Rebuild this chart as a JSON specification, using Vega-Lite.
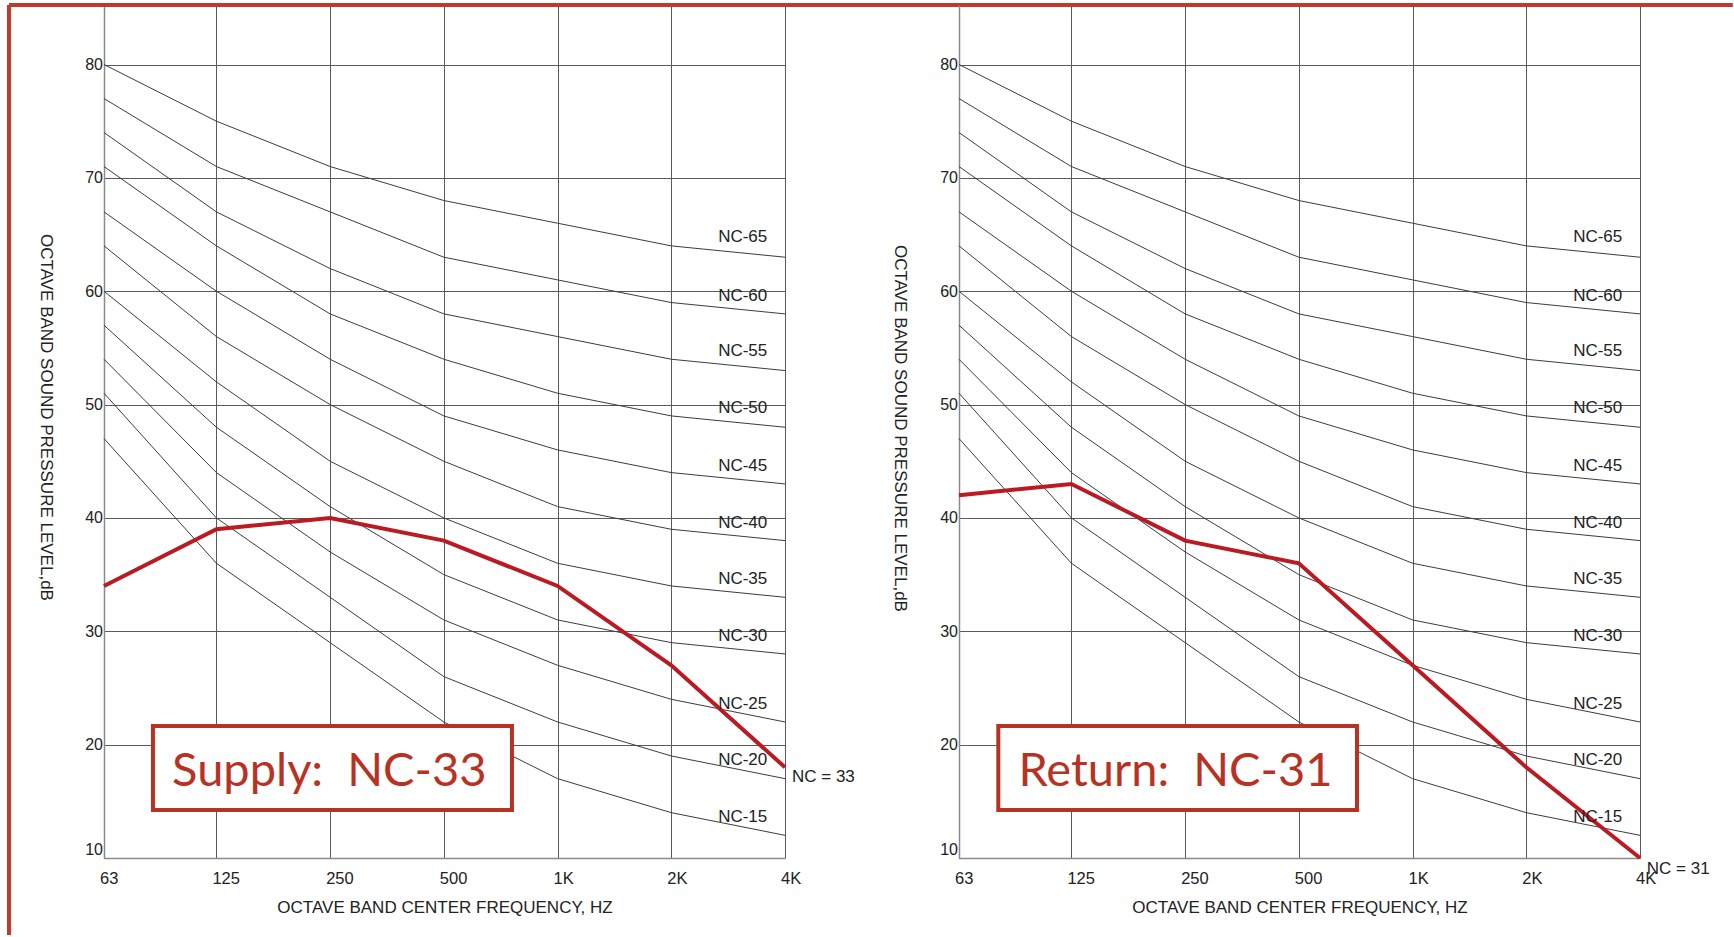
{
  "$schema": "https://vega.github.io/schema/vega-lite/v6.json",
  "padding": {"left": 6, "top": 3, "right": 0, "bottom": 0},
  "background": "white",
  "config": {
    "view": {"stroke": null},
    "font": "Liberation Sans",
    "axis": {
      "labelFont": "Liberation Sans", "titleFont": "Liberation Sans",
      "labelColor": "#222222", "titleColor": "#222222", "titleFontWeight": "normal",
      "gridColor": "#5a5a5a", "gridWidth": 1, "gridOpacity": 1,
      "domainColor": "#8a8a8a", "domainWidth": 1.5,
      "ticks": false, "tickSize": 0, "labelFlush": false, "labelOverlap": false
    }
  },
  "datasets": {
    "nc": [
      {"curve":"NC-15","freq":63,"level":47},{"curve":"NC-15","freq":125,"level":36},{"curve":"NC-15","freq":250,"level":29},{"curve":"NC-15","freq":500,"level":22},{"curve":"NC-15","freq":1000,"level":17},{"curve":"NC-15","freq":2000,"level":14},{"curve":"NC-15","freq":4000,"level":12},
      {"curve":"NC-20","freq":63,"level":51},{"curve":"NC-20","freq":125,"level":40},{"curve":"NC-20","freq":250,"level":33},{"curve":"NC-20","freq":500,"level":26},{"curve":"NC-20","freq":1000,"level":22},{"curve":"NC-20","freq":2000,"level":19},{"curve":"NC-20","freq":4000,"level":17},
      {"curve":"NC-25","freq":63,"level":54},{"curve":"NC-25","freq":125,"level":44},{"curve":"NC-25","freq":250,"level":37},{"curve":"NC-25","freq":500,"level":31},{"curve":"NC-25","freq":1000,"level":27},{"curve":"NC-25","freq":2000,"level":24},{"curve":"NC-25","freq":4000,"level":22},
      {"curve":"NC-30","freq":63,"level":57},{"curve":"NC-30","freq":125,"level":48},{"curve":"NC-30","freq":250,"level":41},{"curve":"NC-30","freq":500,"level":35},{"curve":"NC-30","freq":1000,"level":31},{"curve":"NC-30","freq":2000,"level":29},{"curve":"NC-30","freq":4000,"level":28},
      {"curve":"NC-35","freq":63,"level":60},{"curve":"NC-35","freq":125,"level":52},{"curve":"NC-35","freq":250,"level":45},{"curve":"NC-35","freq":500,"level":40},{"curve":"NC-35","freq":1000,"level":36},{"curve":"NC-35","freq":2000,"level":34},{"curve":"NC-35","freq":4000,"level":33},
      {"curve":"NC-40","freq":63,"level":64},{"curve":"NC-40","freq":125,"level":56},{"curve":"NC-40","freq":250,"level":50},{"curve":"NC-40","freq":500,"level":45},{"curve":"NC-40","freq":1000,"level":41},{"curve":"NC-40","freq":2000,"level":39},{"curve":"NC-40","freq":4000,"level":38},
      {"curve":"NC-45","freq":63,"level":67},{"curve":"NC-45","freq":125,"level":60},{"curve":"NC-45","freq":250,"level":54},{"curve":"NC-45","freq":500,"level":49},{"curve":"NC-45","freq":1000,"level":46},{"curve":"NC-45","freq":2000,"level":44},{"curve":"NC-45","freq":4000,"level":43},
      {"curve":"NC-50","freq":63,"level":71},{"curve":"NC-50","freq":125,"level":64},{"curve":"NC-50","freq":250,"level":58},{"curve":"NC-50","freq":500,"level":54},{"curve":"NC-50","freq":1000,"level":51},{"curve":"NC-50","freq":2000,"level":49},{"curve":"NC-50","freq":4000,"level":48},
      {"curve":"NC-55","freq":63,"level":74},{"curve":"NC-55","freq":125,"level":67},{"curve":"NC-55","freq":250,"level":62},{"curve":"NC-55","freq":500,"level":58},{"curve":"NC-55","freq":1000,"level":56},{"curve":"NC-55","freq":2000,"level":54},{"curve":"NC-55","freq":4000,"level":53},
      {"curve":"NC-60","freq":63,"level":77},{"curve":"NC-60","freq":125,"level":71},{"curve":"NC-60","freq":250,"level":67},{"curve":"NC-60","freq":500,"level":63},{"curve":"NC-60","freq":1000,"level":61},{"curve":"NC-60","freq":2000,"level":59},{"curve":"NC-60","freq":4000,"level":58},
      {"curve":"NC-65","freq":63,"level":80},{"curve":"NC-65","freq":125,"level":75},{"curve":"NC-65","freq":250,"level":71},{"curve":"NC-65","freq":500,"level":68},{"curve":"NC-65","freq":1000,"level":66},{"curve":"NC-65","freq":2000,"level":64},{"curve":"NC-65","freq":4000,"level":63}
    ],
    "nclabels": [
      {"curve":"NC-65","freq":3590,"level":64.76},
      {"curve":"NC-60","freq":3590,"level":59.62},
      {"curve":"NC-55","freq":3590,"level":54.7},
      {"curve":"NC-50","freq":3590,"level":49.72},
      {"curve":"NC-45","freq":3590,"level":44.61},
      {"curve":"NC-40","freq":3590,"level":39.55},
      {"curve":"NC-35","freq":3590,"level":34.61},
      {"curve":"NC-30","freq":3590,"level":29.6},
      {"curve":"NC-25","freq":3590,"level":23.56},
      {"curve":"NC-20","freq":3590,"level":18.62},
      {"curve":"NC-15","freq":3590,"level":13.62}
    ],
    "measured": [
      {"panel":"Supply","freq":63,"level":34},{"panel":"Supply","freq":125,"level":39},{"panel":"Supply","freq":250,"level":40},{"panel":"Supply","freq":500,"level":38},{"panel":"Supply","freq":1000,"level":34},{"panel":"Supply","freq":2000,"level":27},{"panel":"Supply","freq":4000,"level":18},
      {"panel":"Return","freq":63,"level":42},{"panel":"Return","freq":125,"level":43},{"panel":"Return","freq":250,"level":38},{"panel":"Return","freq":500,"level":36},{"panel":"Return","freq":1000,"level":27},{"panel":"Return","freq":2000,"level":18},{"panel":"Return","freq":4000,"level":10}
    ],
    "boxes": [
      {"panel":"Supply","freq":84.9,"freq2":757.3,"level":21.645,"level2":14.235},
      {"panel":"Return","freq":80.05,"freq2":712.6,"level":21.645,"level2":14.235}
    ],
    "boxtext": [
      {"panel":"Supply","freq":248.7,"level":16.35,"text":"Supply:\u00a0 NC-33"},
      {"panel":"Return","freq":235.7,"level":16.35,"text":"Return:\u00a0 NC-31"}
    ],
    "result": [
      {"panel":"Supply","freq":4174,"level":17.12,"text":"NC = 33"},
      {"panel":"Return","freq":4168,"level":9.03,"text":"NC = 31"}
    ],
    "frameV": [{"freq":35.3,"level":85.25,"level2":3.207}],
    "frameH": [{"freq":35.3,"freq2":1291000,"level":85.25}]
  },
  "bounds": "flush",
  "spacing": 174,
  "hconcat": [
    {
      "width": 681, "height": 853,
      "encoding": {
        "x": {"field":"freq","type":"quantitative","scale":{"type":"log","domain":[63,4000],"nice":false},
          "axis":{"values":[63,125,250,500,1000,2000,4000],"labelExpr":"datum.value >= 1000 ? format(datum.value/1000, 'd') + 'K' : format(datum.value, 'd')","grid":true,"labelAlign":"left","labelOffset":-4.5,"labelPadding":12.5,"labelFontSize":16.5,"title":"OCTAVE BAND CENTER FREQUENCY, HZ","titleFontSize":17,"titlePadding":12}},
        "y": {"field":"level","type":"quantitative","scale":{"domain":[10,85.25],"nice":false,"zero":false},
          "axis":{"values":[10,20,30,40,50,60,70,80],"grid":true,"labelPadding":1.5,"labelFontSize":16,"labelOffset":{"condition":{"test":"datum.value == 10","value":-9},"value":0},"title":"OCTAVE BAND SOUND PRESSURE LEVEL,dB","titleAngle":90,"titleFontSize":17,"titlePadding":48.5,"titleY":412}}
      },
      "layer": [
        {"data":{"name":"nc"},"mark":{"type":"line","color":"#3c3c3c","strokeWidth":1},"encoding":{"detail":{"field":"curve"}}},
        {"data":{"name":"measured"},"transform":[{"filter":"datum.panel == 'Supply'"}],"mark":{"type":"line","color":"#bb1a22","strokeWidth":4}},
        {"data":{"name":"nclabels"},"mark":{"type":"text","align":"right","baseline":"middle","fontSize":17,"color":"#222222","font":"Liberation Sans"},"encoding":{"text":{"field":"curve"}}},
        {"data":{"name":"boxes"},"transform":[{"filter":"datum.panel == 'Supply'"}],"mark":{"type":"rect","fill":"white","stroke":"#b83224","strokeWidth":4},"encoding":{"x2":{"field":"freq2"},"y2":{"field":"level2"}}},
        {"data":{"name":"boxtext"},"transform":[{"filter":"datum.panel == 'Supply'"}],"mark":{"type":"text","align":"center","baseline":"alphabetic","fontSize":47,"font":"Lato","color":"#b83224"},"encoding":{"text":{"field":"text"}}},
        {"data":{"name":"result"},"transform":[{"filter":"datum.panel == 'Supply'"}],"mark":{"type":"text","align":"left","baseline":"middle","fontSize":17,"color":"#222222","font":"Liberation Sans","clip":false},"encoding":{"text":{"field":"text"}}},
        {"data":{"name":"frameV"},"mark":{"type":"rule","color":"#c0392b","strokeWidth":4,"clip":false},"encoding":{"y2":{"field":"level2"}}},
        {"data":{"name":"frameH"},"mark":{"type":"rule","color":"#c0392b","strokeWidth":4,"clip":false},"encoding":{"x2":{"field":"freq2"}}}
      ]
    },
    {
      "width": 681, "height": 853,
      "encoding": {
        "x": {"field":"freq","type":"quantitative","scale":{"type":"log","domain":[63,4000],"nice":false},
          "axis":{"values":[63,125,250,500,1000,2000,4000],"labelExpr":"datum.value >= 1000 ? format(datum.value/1000, 'd') + 'K' : format(datum.value, 'd')","grid":true,"labelAlign":"left","labelOffset":-4.5,"labelPadding":12.5,"labelFontSize":16.5,"title":"OCTAVE BAND CENTER FREQUENCY, HZ","titleFontSize":17,"titlePadding":12}},
        "y": {"field":"level","type":"quantitative","scale":{"domain":[10,85.25],"nice":false,"zero":false},
          "axis":{"values":[10,20,30,40,50,60,70,80],"grid":true,"labelPadding":1.5,"labelFontSize":16,"labelOffset":{"condition":{"test":"datum.value == 10","value":-9},"value":0},"title":"OCTAVE BAND SOUND PRESSURE LEVEL,dB","titleAngle":90,"titleFontSize":17,"titlePadding":49,"titleY":423}}
      },
      "layer": [
        {"data":{"name":"nc"},"mark":{"type":"line","color":"#3c3c3c","strokeWidth":1},"encoding":{"detail":{"field":"curve"}}},
        {"data":{"name":"measured"},"transform":[{"filter":"datum.panel == 'Return'"}],"mark":{"type":"line","color":"#bb1a22","strokeWidth":4}},
        {"data":{"name":"nclabels"},"mark":{"type":"text","align":"right","baseline":"middle","fontSize":17,"color":"#222222","font":"Liberation Sans"},"encoding":{"text":{"field":"curve"}}},
        {"data":{"name":"boxes"},"transform":[{"filter":"datum.panel == 'Return'"}],"mark":{"type":"rect","fill":"white","stroke":"#b83224","strokeWidth":4},"encoding":{"x2":{"field":"freq2"},"y2":{"field":"level2"}}},
        {"data":{"name":"boxtext"},"transform":[{"filter":"datum.panel == 'Return'"}],"mark":{"type":"text","align":"center","baseline":"alphabetic","fontSize":47,"font":"Lato","color":"#b83224"},"encoding":{"text":{"field":"text"}}},
        {"data":{"name":"result"},"transform":[{"filter":"datum.panel == 'Return'"}],"mark":{"type":"text","align":"left","baseline":"middle","fontSize":17,"color":"#222222","font":"Liberation Sans","clip":false},"encoding":{"text":{"field":"text"}}}
      ]
    }
  ]
}
